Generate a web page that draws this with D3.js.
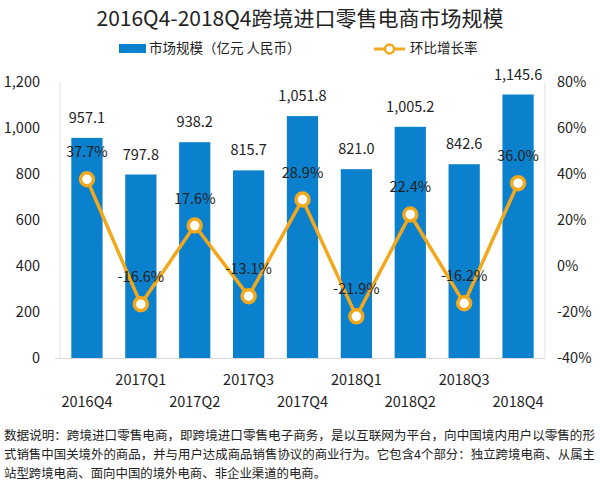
<!DOCTYPE html>
<html><head><meta charset="utf-8">
<script src="https://cdn.jsdelivr.net/npm/d3@7"></script>
<style>body{margin:0;background:#fff}svg{display:block}text{font-family:"Noto Sans CJK SC","Microsoft YaHei",sans-serif}</style>
</head><body><svg id="c" width="600" height="484"></svg>
<script>
const categories = ["2016Q4","2017Q1","2017Q2","2017Q3","2017Q4","2018Q1","2018Q2","2018Q3","2018Q4"];
const marketSize = [957.1,797.8,938.2,815.7,1051.8,821.0,1005.2,842.6,1145.6];
const growthRate = [37.7,-16.6,17.6,-13.1,28.9,-21.9,22.4,-16.2,36.0];
const leftTicks = [0,200,400,600,800,1000,1200];
const rightTicks = [-40,-20,0,20,40,60,80];
const title = "2016Q4-2018Q4跨境进口零售电商市场规模";
const legendBar = "市场规模（亿元 人民币）";
const legendLine = "环比增长率";
const notes = [
 "数据说明：跨境进口零售电商，即跨境进口零售电子商务，是以互联网为平台，向中国境内用户以零售的形",
 "式销售中国关境外的商品，并与用户达成商品销售协议的商业行为。它包含4个部分：独立跨境电商、从属主",
 "站型跨境电商、面向中国的境外电商、非企业渠道的电商。"
];

const svg = d3.select("#c");
const blue = "#0B80CD", orange = "#F2A81D";
const x = d3.scaleBand().domain(categories).range([60,545]).paddingInner(0.42).paddingOuter(0.21);
const yL = d3.scaleLinear().domain([0,1200]).range([358,82]);
const yR = d3.scaleLinear().domain([-40,80]).range([358,82]);

svg.append("text").attr("x",300).attr("y",26).attr("text-anchor","middle")
  .attr("font-size",21).attr("fill","#222").text(title);

// legend
svg.append("rect").attr("x",119).attr("y",44).attr("width",27).attr("height",9).attr("fill",blue);
svg.append("text").attr("x",149).attr("y",53).attr("font-size",13.5).attr("fill","#222").text(legendBar);
svg.append("line").attr("x1",374).attr("x2",405).attr("y1",49).attr("y2",49).attr("stroke",orange).attr("stroke-width",3);
svg.append("circle").attr("cx",389.5).attr("cy",49).attr("r",4.5).attr("fill","#fff").attr("stroke",orange).attr("stroke-width",2.5);
svg.append("text").attr("x",410).attr("y",53).attr("font-size",13.5).attr("fill","#222").text(legendLine);

// axis frame lines
svg.append("line").attr("x1",60).attr("x2",60).attr("y1",82).attr("y2",358).attr("stroke","#e2e2e2");
svg.append("line").attr("x1",545).attr("x2",545).attr("y1",82).attr("y2",358).attr("stroke","#e2e2e2");

// left axis
const la = svg.append("g").attr("transform","translate(60,0)")
  .call(d3.axisLeft(yL).tickValues(leftTicks).tickSize(0).tickPadding(20).tickFormat(d3.format(",")));
la.select(".domain").remove();
la.selectAll("text").attr("font-size",14.5).attr("fill","#222");

// right axis
const ra = svg.append("g").attr("transform","translate(545,0)")
  .call(d3.axisRight(yR).tickValues(rightTicks).tickSize(0).tickPadding(12).tickFormat(d=>d+"%"));
ra.select(".domain").remove();
ra.selectAll("text").attr("font-size",14.5).attr("fill","#222");

// bars
svg.selectAll("rect.bar").data(marketSize).enter().append("rect").attr("class","bar")
  .attr("x",(d,i)=>x(categories[i])).attr("width",x.bandwidth())
  .attr("y",d=>yL(d)).attr("height",d=>yL(0)-yL(d)).attr("fill",blue);

// baseline
svg.append("line").attr("x1",55).attr("x2",545).attr("y1",358.5).attr("y2",358.5).attr("stroke","#d9d9d9");

// bar labels
svg.selectAll("text.bl").data(marketSize).enter().append("text").attr("class","bl")
  .attr("x",(d,i)=>x(categories[i])+x.bandwidth()/2).attr("y",d=>yL(d)-15)
  .attr("text-anchor","middle").attr("font-size",14.5).attr("fill","#222")
  .text(d=>d3.format(",.1f")(d));

// x labels staggered
svg.selectAll("text.xl").data(categories).enter().append("text").attr("class","xl")
  .attr("x",d=>x(d)+x.bandwidth()/2).attr("y",(d,i)=>i%2===0?407:385)
  .attr("text-anchor","middle").attr("font-size",14.5).attr("fill","#222").text(d=>d);

// line
const cx = i=>x(categories[i])+x.bandwidth()/2;
const line = d3.line().x((d,i)=>cx(i)).y(d=>yR(d));
svg.append("path").datum(growthRate).attr("d",line).attr("fill","none")
  .attr("stroke",orange).attr("stroke-width",3.5).attr("stroke-linejoin","round");
svg.selectAll("circle.pt").data(growthRate).enter().append("circle").attr("class","pt")
  .attr("cx",(d,i)=>cx(i)).attr("cy",d=>yR(d)).attr("r",6.5)
  .attr("fill","#fff").attr("stroke",orange).attr("stroke-width",3.5);
svg.selectAll("text.pl").data(growthRate).enter().append("text").attr("class","pl")
  .attr("x",(d,i)=>cx(i)).attr("y",d=>yR(d)-22)
  .attr("text-anchor","middle").attr("font-size",14.5).attr("fill","#222")
  .text(d=>d.toFixed(1)+"%");

// notes
svg.selectAll("text.nt").data(notes).enter().append("text").attr("class","nt")
  .attr("x",4).attr("y",(d,i)=>440+i*19).attr("font-size",12.4).attr("fill","#222")
  .each(function(d,i){ if(i<2) d3.select(this).attr("textLength",591).attr("lengthAdjust","spacingAndGlyphs"); })
  .text(d=>d);
</script></body></html>
